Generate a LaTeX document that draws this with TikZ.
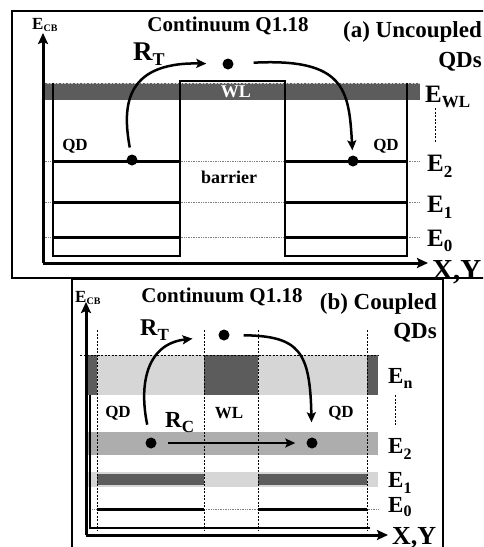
\documentclass[tikz,border=0pt]{standalone}
\usepackage{fontspec}
\setmainfont{Liberation Serif}
\usetikzlibrary{arrows.meta}
\definecolor{darkband}{gray}{0.36}
\definecolor{lightband}{gray}{0.84}
\definecolor{midband}{gray}{0.68}
\newcommand\fs[1]{\fontsize{#1}{#1}\selectfont\bfseries}
\newcommand\sublab[5]{{\fs{#1}#2}\raisebox{-#4}{\fs{#3}#5}}
\begin{document}
\begin{tikzpicture}[x=1pt,y=-1pt,
  frame/.style={line width=2.5pt},
  axis/.style={line width=3pt,-{Stealth[length=11pt,width=10pt,inset=2pt]}},
  wall/.style={line width=2.5pt},
  level/.style={line width=3pt},
  guide/.style={gray,line width=0.7pt,densely dotted},
  vguide/.style={black,line width=0.7pt,dash pattern=on 2pt off 1.5pt},
  dot/.style={circle,fill=black,inner sep=0pt,minimum size=11pt},
  hop/.style={line width=2.5pt,-{Stealth[length=10pt,width=9pt,inset=2pt]}},
  lbl/.style={inner sep=0pt,anchor=base west},
  txt/.style={inner sep=0pt}]
\useasboundingbox (0,0) rectangle (483,547);
\clip (0,0) rectangle (483,547);
\fill[white] (0,0) rectangle (483,547);

% ---------------- panel (a) ----------------
\draw[frame] (12,11) rectangle (495,278);
\fill[darkband] (43,83) rectangle (420,100);
\draw[vguide,gray!40] (43,83) -- (420,83);
\draw[guide] (43,161) -- (420,161);
\draw[guide] (43,202) -- (420,202);
\draw[guide] (43,237) -- (420,237);
\draw[wall] (53,83) -- (53,256) -- (180,256) -- (180,81) -- (285,81) -- (285,256) -- (407,256) -- (407,83);
\foreach \y in {161,202,237}{
  \draw[level] (53,\y) -- (180,\y);
  \draw[level] (285,\y) -- (407,\y);
}
\coordinate (oa) at (43,263);
\coordinate (ya) at (43,33);
\coordinate (xa) at (428,263);
\draw[axis] (oa) -- (ya);
\draw[axis] (oa) -- (xa);
\draw[vguide] (435,108) -- (435,142);

\node[dot] (qa1) at (132,160) {};
\node[dot] (qa2) at (353,161) {};
\node[dot] (ca) at (228,64) {};
\draw[hop,shorten <=7pt,shorten >=16pt] (qa1) .. controls (123,110) and (122,62) .. (ca);
\draw[hop,shorten <=20pt,shorten >=5pt] (ca) .. controls (345,58) and (349,90) .. (qa2);

\node[lbl] (ecba) at (32,29) {\sublab{17pt}{E}{10pt}{2pt}{CB}};
\node[txt,font=\fs{21pt}] (conta) at (228,26) {Continuum Q1.18};
\node[txt,anchor=base east,font=\fs{23pt}] (titlea) at (482,37) {(a) Uncoupled};
\node[txt,anchor=base east,font=\fs{23pt}] (qdsa) at (482,67) {QDs};
\node[lbl] (rta) at (133,60) {\sublab{27pt}{R}{18pt}{5pt}{T}};
\node[txt,text=white,font=\fs{18pt}] (wla) at (236,92) {WL};
\node[txt,font=\fs{17pt}] (qdla) at (75,146) {QD};
\node[txt,font=\fs{17pt}] (qdra) at (386,146) {QD};
\node[txt,font=\fs{18pt}] (barr) at (229,177) {barrier};
\node[lbl] (ewl) at (425,102) {\sublab{25pt}{E}{17pt}{5pt}{WL}};
\node[lbl] (e2a) at (427,171) {\sublab{25pt}{E}{17pt}{6pt}{2}};
\node[lbl] (e1a) at (427,212) {\sublab{25pt}{E}{17pt}{6pt}{1}};
\node[lbl] (e0a) at (427,246) {\sublab{25pt}{E}{17pt}{5pt}{0}};
\node[lbl,font=\fs{29pt}] (xya) at (432,279) {X,Y};

% ---------------- panel (b) ----------------
\draw[frame] (72,279) rectangle (443,560);
\fill[lightband] (85,355) rectangle (378,395);
\fill[darkband] (85,355) rectangle (97,395);
\fill[darkband] (204,355) rectangle (258,395);
\fill[darkband] (367,355) rectangle (378,395);
\draw[vguide] (80,355) -- (378,355);
\fill[midband] (87,432) rectangle (378,455);
\fill[lightband] (87,472) rectangle (378,487);
\fill[darkband] (97,474) rectangle (204,485);
\fill[darkband] (258,474) rectangle (367,485);
\draw[guide] (87,509) -- (378,509);
\draw[level] (97,509) -- (204,509);
\draw[level] (258,509) -- (367,509);
\foreach \x in {97,204,258,367}{
  \draw[vguide] (\x,330) -- (\x,530);
}
\draw[line width=2pt] (90,395) -- (90,528) -- (370,528);
\coordinate (ob) at (86,535);
\coordinate (yb) at (86,302);
\coordinate (xb) at (388,535);
\draw[axis] (ob) -- (yb);
\draw[axis] (ob) -- (xb);
\draw[vguide] (395,395) -- (395,425);

\node[dot] (qb1) at (151,443) {};
\node[dot] (qb2) at (312,443) {};
\node[dot] (cb) at (224,335) {};
\draw[hop,shorten <=13pt,shorten >=26pt] (qb1) .. controls (139,385) and (146,344) .. (cb);
\draw[hop,shorten <=14pt,shorten >=15pt] (cb) .. controls (300,336) and (310,352) .. (qb2);
\draw[hop,shorten <=11pt,shorten >=11pt] (qb1) -- (qb2);

\node[lbl] (ecbb) at (75,302) {\sublab{17pt}{E}{10pt}{2pt}{CB}};
\node[txt,font=\fs{21pt}] (contb) at (222,297) {Continuum Q1.18};
\node[txt,anchor=base east,font=\fs{23pt}] (titleb) at (437,309) {(b) Coupled};
\node[txt,anchor=base east,font=\fs{23pt}] (qdsb) at (437,338) {QDs};
\node[lbl] (rtb) at (140,335) {\sublab{24pt}{R}{17pt}{5pt}{T}};
\node[lbl] (rcb) at (165,427) {\sublab{23pt}{R}{17pt}{5pt}{C}};
\node[txt,font=\fs{17pt}] (qdlb) at (118,413) {QD};
\node[txt,font=\fs{17pt}] (wlb) at (229,413) {WL};
\node[txt,font=\fs{17pt}] (qdrb) at (341,413) {QD};
\node[lbl] (enb) at (388,383) {\sublab{23pt}{E}{16pt}{5pt}{n}};
\node[lbl] (e2b) at (388,453) {\sublab{23pt}{E}{16pt}{6pt}{2}};
\node[lbl] (e1b) at (388,487) {\sublab{23pt}{E}{16pt}{6pt}{1}};
\node[lbl] (e0b) at (388,512) {\sublab{23pt}{E}{16pt}{4pt}{0}};
\node[lbl,font=\fs{26pt}] (xyb) at (392,544) {X,Y};
\end{tikzpicture}
\end{document}
